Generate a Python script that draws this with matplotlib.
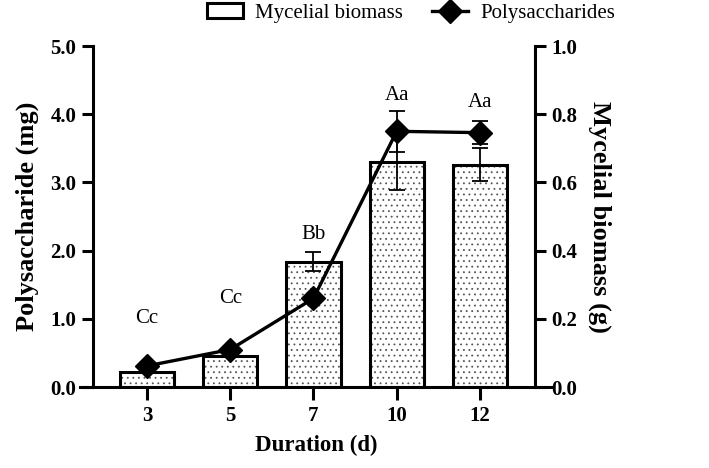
import numpy as np
import matplotlib.pyplot as plt
from matplotlib.lines import Line2D
from matplotlib.patches import Patch

plt.rcParams['font.family'] = ['Liberation Serif', 'DejaVu Serif']
plt.rcParams['hatch.linewidth'] = 0.6

# data
days = ['3', '5', '7', '10', '12']
biomass = [0.045, 0.090, 0.368, 0.660, 0.652]        # g, bars (right axis)
biomass_err = [0.003, 0.003, 0.028, 0.082, 0.049]
polysac = [0.31, 0.55, 1.30, 3.75, 3.73]             # mg, line (left axis)
polysac_err = [0.02, 0.03, 0.05, 0.30, 0.17]
letters = ['Cc', 'Cc', 'Bb', 'Aa', 'Aa']
letter_y = [0.86, 1.16, 2.10, 4.14, 4.03]            # label heights, mg scale

x = np.arange(len(days))

fig = plt.figure(figsize=(7.09, 4.68), dpi=100)
ax = fig.add_axes([0.1128, 0.173, 0.6657, 0.7286])
ax2 = ax.twinx()

# bars: mycelial biomass (dotted fill drawn first, black outline on top)
ax2.bar(x, biomass, width=0.65, color='white', edgecolor='#555555',
        linewidth=0, hatch='...', zorder=2)
ax2.bar(x, biomass, width=0.65, fill=False, edgecolor='black',
        linewidth=2.2, zorder=2)
ax2.errorbar(x, biomass, yerr=biomass_err, fmt='none', ecolor='black',
             elinewidth=1.3, capsize=6, capthick=1.3, zorder=3)

# line: polysaccharides
ax.errorbar(x, polysac, yerr=polysac_err, fmt='none', ecolor='black',
            elinewidth=1.3, capsize=6, capthick=1.3, zorder=3)
ax.plot(x, polysac, color='black', linewidth=2.4, marker='D',
        markersize=12, zorder=4)
for xi, yi, t in zip(x, letter_y, letters):
    ax.text(xi, yi, t, ha='center', va='bottom', fontsize=15)

ax.set_zorder(ax2.get_zorder() + 1)
ax.patch.set_visible(False)

ax.set_xlim(-0.805, 4.865)
ax.set_ylim(0, 5)
ax2.set_ylim(0, 1.0)
ax.set_xticks(x)
ax.set_xticklabels(days)
ax.set_yticks(np.arange(0, 5.1, 1.0))
ax.set_yticklabels(['%.1f' % v for v in np.arange(0, 5.1, 1.0)])
ax2.set_yticks(np.arange(0, 1.01, 0.2))
ax2.set_yticklabels(['%.1f' % v for v in np.arange(0, 1.01, 0.2)])

for a in (ax, ax2):
    a.spines['top'].set_visible(False)
    for s in a.spines.values():
        s.set_linewidth(2.2)
ax.spines['right'].set_visible(False)
ax2.spines['left'].set_visible(False)
ax2.spines['bottom'].set_visible(False)
ax.spines['left'].set_position(('axes', 0.0275))
ax2.spines['right'].set_position(('axes', 0.964))

ax.tick_params(axis='y', direction='out', length=8, width=2.2, labelsize=15, pad=4)
ax.tick_params(axis='x', direction='out', length=9, width=2.2, labelsize=15, pad=5)
ax2.tick_params(axis='y', direction='out', length=8, width=2.2, labelsize=15, pad=4)
for lab in ax.get_xticklabels() + ax.get_yticklabels() + ax2.get_yticklabels():
    lab.set_fontweight('bold')

ax.set_xlabel('Duration (d)', fontsize=16.5, fontweight='bold', labelpad=6)
ax.set_ylabel('Polysaccharide (mg)', fontsize=19, fontweight='bold', labelpad=8)
ax2.set_ylabel('Mycelial biomass (g)', fontsize=19, fontweight='bold',
               rotation=270, labelpad=24)

handles = [Patch(facecolor='white', edgecolor='black', linewidth=2.2),
           Line2D([], [], color='black', linewidth=2.4, marker='D', markersize=12)]
fig.legend(handles, ['Mycelial biomass', 'Polysaccharides'], ncol=2,
           loc='center', bbox_to_anchor=(0.58, 0.972), frameon=False,
           fontsize=15, handlelength=1.7, handletextpad=0.6, columnspacing=1.4)

fig.savefig('out.png', dpi=100)
